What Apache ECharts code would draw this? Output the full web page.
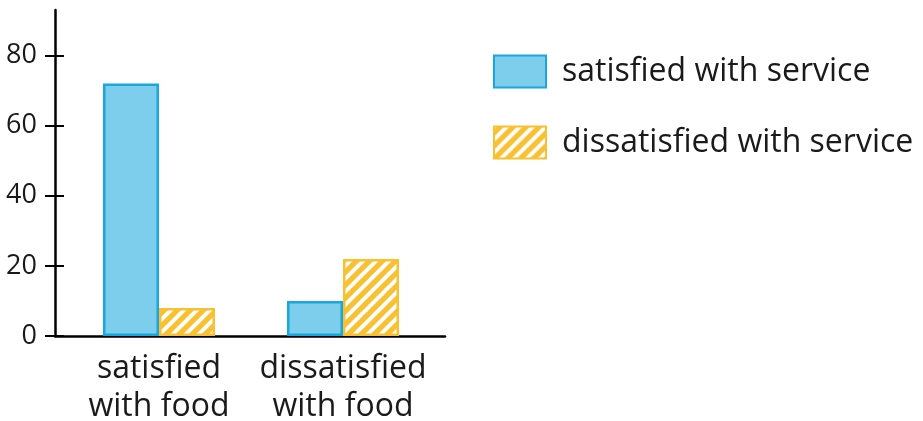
<!DOCTYPE html>
<html>
<head>
<meta charset="utf-8">
<script src="https://cdn.jsdelivr.net/npm/echarts@6/dist/echarts.min.js"></script>
<style>html,body{margin:0;padding:0;background:#fff;}#c{width:923px;height:421px;}</style>
</head>
<body>
<div id="c"></div>
<script>
const categories = ['satisfied\nwith food', 'dissatisfied\nwith food'];
const seriesNames = ['satisfied with service', 'dissatisfied with service'];
const satisfiedService = [72, 10];
const dissatisfiedService = [8, 22];
const yTicks = [0, 20, 40, 60, 80];

const FONT = 'Open Sans';
const BLUE_FILL = '#7DCDED';
const BLUE_EDGE = '#19A7DE';
const ORANGE = '#F9C031';

function stripes() {
  const s = 13;
  const c = document.createElement('canvas');
  c.width = s; c.height = s;
  const g = c.getContext('2d');
  g.fillStyle = ORANGE;
  g.fillRect(0, 0, s, s);
  g.strokeStyle = '#ffffff';
  g.lineWidth = 4;
  g.beginPath();
  g.moveTo(-s / 2, s / 2); g.lineTo(s / 2, -s / 2);
  g.moveTo(0, s); g.lineTo(s, 0);
  g.moveTo(s / 2, s * 1.5); g.lineTo(s * 1.5, s / 2);
  g.stroke();
  return { image: c, repeat: 'repeat' };
}

const chart = echarts.init(document.getElementById('c'), null, { renderer: 'canvas' });
const YMAX = 93;
chart.setOption({
  animation: false,
  backgroundColor: '#fff',
  legend: {
    orient: 'vertical',
    left: 493, top: 53,
    padding: 0,
    icon: 'rect',
    itemWidth: 52, itemHeight: 32,
    itemGap: 34,
    textStyle: { fontFamily: FONT, fontSize: 32, color: '#1a1a1a', lineHeight: 34, padding: [3, 0, 0, 11] },
    data: seriesNames
  },
  grid: [
    { left: 55, right: 478, top: 10, bottom: 85, outerBoundsMode: 'none', containLabel: false },
    { left: 67, right: 488, top: 10, bottom: 85, outerBoundsMode: 'none', containLabel: false }
  ],
  xAxis: [
    { type: 'category', gridIndex: 0, data: categories,
      axisLine: { lineStyle: { color: '#000', width: 2.5 } },
      axisTick: { show: false }, axisLabel: { show: false } },
    { type: 'category', gridIndex: 1, data: categories,
      axisLine: { show: false }, axisTick: { show: false },
      axisLabel: { interval: 0, fontFamily: FONT, fontSize: 32, color: '#1a1a1a', lineHeight: 38, margin: 14 } }
  ],
  yAxis: [
    { type: 'value', gridIndex: 0, min: 0, max: YMAX, interval: 20, position: 'left',
      splitLine: { show: false },
      axisLine: { show: true, lineStyle: { color: '#000', width: 2.5 } },
      axisTick: { show: true, length: 10, customValues: yTicks, lineStyle: { color: '#000', width: 2 } },
      axisLabel: { customValues: yTicks, margin: 18, fontFamily: FONT, fontSize: 27, color: '#1a1a1a' } },
    { type: 'value', gridIndex: 0, min: 0, max: YMAX, interval: 20, position: 'left',
      splitLine: { show: false },
      axisLine: { show: false },
      axisTick: { show: true, inside: true, length: 9, customValues: yTicks, lineStyle: { color: '#000', width: 2 } },
      axisLabel: { show: false } },
    { type: 'value', gridIndex: 1, min: 0, max: YMAX, show: false }
  ],
  series: [
    { name: seriesNames[0], type: 'bar', xAxisIndex: 1, yAxisIndex: 2,
      data: satisfiedService, barWidth: 56, barGap: 0,
      itemStyle: { color: BLUE_FILL, borderColor: BLUE_EDGE, borderWidth: 2.5 } },
    { name: seriesNames[1], type: 'bar', xAxisIndex: 1, yAxisIndex: 2,
      data: dissatisfiedService, barWidth: 56, barGap: 0,
      itemStyle: { color: stripes(), borderColor: ORANGE, borderWidth: 2.5 } }
  ]
});
</script>
</body>
</html>
